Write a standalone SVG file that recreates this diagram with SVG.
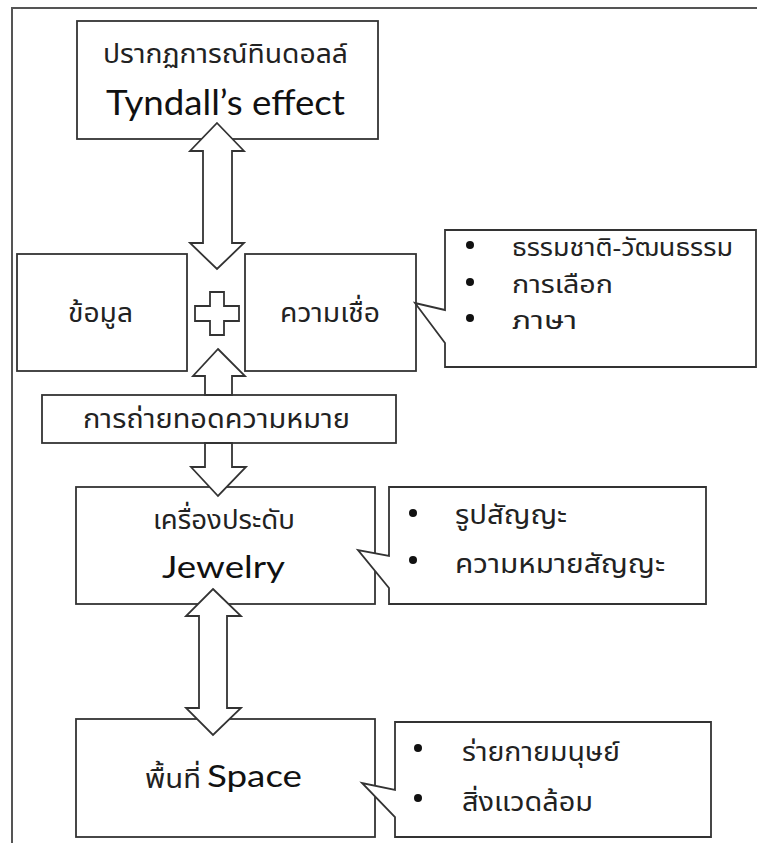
<svg xmlns="http://www.w3.org/2000/svg" width="758" height="843" viewBox="0 0 758 843">
  <style>
    .box { fill: #ffffff; stroke: #333333; stroke-width: 1.8; }
    .frame { fill: none; stroke: #555555; stroke-width: 2; }
    .arrow { fill: #ffffff; stroke: #333333; stroke-width: 1.8; stroke-linejoin: miter; }
    .th { font-family: "Noto Sans Thai", "Noto Sans", "DejaVu Sans", sans-serif; font-size: 27px; fill: #222222; }
    .note { font-size: 24px; }
    .en { font-family: "Lato", "Open Sans", sans-serif; fill: #111111; }
    .dot { fill: #111111; }
  </style>
  <rect width="758" height="843" fill="#ffffff"/>

  <!-- outer frame, open at the bottom -->
  <path class="frame" d="M12,843 V8 H757"/>

  <!-- nodes -->
  <g id="tyndall">
    <rect class="box" x="77" y="21" width="301" height="118"/>
    <text class="th" x="103" y="63" font-size="29" textLength="245" lengthAdjust="spacingAndGlyphs">ปรากฏการณ์ทินดอลล์</text>
    <text class="en" x="106" y="115" font-size="34" textLength="239" lengthAdjust="spacingAndGlyphs">Tyndall’s effect</text>
  </g>

  <g id="data">
    <rect class="box" x="17" y="254" width="170" height="117"/>
    <text class="th" x="68" y="322" textLength="65" lengthAdjust="spacingAndGlyphs">ข้อมูล</text>
  </g>

  <g id="belief">
    <rect class="box" x="245" y="254" width="171" height="117"/>
    <text class="th" x="280" y="322" textLength="100" lengthAdjust="spacingAndGlyphs">ความเชื่อ</text>
  </g>

  <g id="meaning">
    <rect class="box" x="42" y="395" width="354" height="48"/>
    <text class="th" x="83" y="428" textLength="267" lengthAdjust="spacingAndGlyphs">การถ่ายทอดความหมาย</text>
  </g>

  <g id="jewelry">
    <rect class="box" x="76" y="487" width="299" height="117"/>
    <text class="th" x="153" y="529" textLength="142" lengthAdjust="spacingAndGlyphs">เครื่องประดับ</text>
    <text class="en" x="162" y="578" font-size="30" textLength="123" lengthAdjust="spacingAndGlyphs">Jewelry</text>
  </g>

  <g id="space">
    <rect class="box" x="76" y="719" width="299" height="118"/>
    <text class="th" x="145" y="788" textLength="56" lengthAdjust="spacingAndGlyphs">พื้นที่</text>
    <text class="en" x="207" y="787" font-size="30" textLength="95" lengthAdjust="spacingAndGlyphs">Space</text>
  </g>

  <!-- connectors: block arrows and the plus sign -->
  <g id="connectors">
    <polygon class="arrow" points="217,123 244,151 232,151 232,243 244,243 217,269 190,243 203,243 203,151 190,151"/>
    <polygon class="arrow" points="210,292 224,292 224,306 239,306 239,321 224,321 224,335 210,335 210,321 195,321 195,306 210,306"/>
    <polygon class="arrow" points="218,349 245,376 232,376 232,395 205,395 205,376 193,376"/>
    <polygon class="arrow" points="205,443 232,443 232,467 246,467 218,496 191,467 205,467"/>
    <polygon class="arrow" points="213,589 241,616 227,616 227,708 241,708 213,735 186,708 199,708 199,616 186,616"/>
  </g>

  <!-- callouts -->
  <g id="belief-notes">
    <path class="box" d="M445,230 H756 V367 H445 V343 L415,303 L445,310 Z"/>
    <circle class="dot" cx="470" cy="245" r="4"/>
    <circle class="dot" cx="470" cy="282" r="4"/>
    <circle class="dot" cx="470" cy="318" r="4"/>
    <text class="th note" x="512" y="256" textLength="221" lengthAdjust="spacingAndGlyphs">ธรรมชาติ-วัฒนธรรม</text>
    <text class="th note" x="512" y="293" textLength="101" lengthAdjust="spacingAndGlyphs">การเลือก</text>
    <text class="th note" x="512" y="329" textLength="65" lengthAdjust="spacingAndGlyphs">ภาษา</text>
  </g>

  <g id="jewelry-notes">
    <path class="box" d="M389,487 H706 V604 H389 V588 L358,550 L389,556 Z"/>
    <circle class="dot" cx="413" cy="513" r="4"/>
    <circle class="dot" cx="413" cy="560" r="4"/>
    <text class="th" x="455" y="524" textLength="112" lengthAdjust="spacingAndGlyphs">รูปสัญญะ</text>
    <text class="th" x="455" y="573" textLength="210" lengthAdjust="spacingAndGlyphs">ความหมายสัญญะ</text>
  </g>

  <g id="space-notes">
    <path class="box" d="M395,722 H711 V837 H395 V817 L362,783 L395,790 Z"/>
    <circle class="dot" cx="418" cy="748" r="4"/>
    <circle class="dot" cx="418" cy="798" r="4"/>
    <text class="th" x="462" y="761" textLength="158" lengthAdjust="spacingAndGlyphs">ร่ายกายมนุษย์</text>
    <text class="th" x="462" y="811" textLength="131" lengthAdjust="spacingAndGlyphs">สิ่งแวดล้อม</text>
  </g>
</svg>
